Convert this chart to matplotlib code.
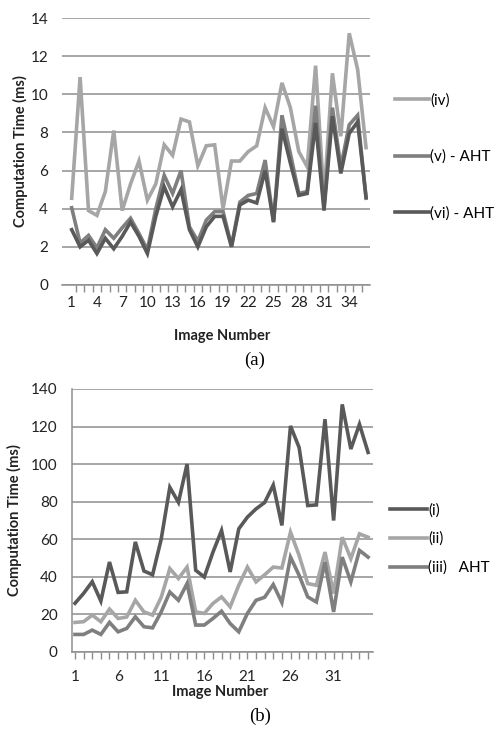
import numpy as np
import matplotlib
matplotlib.use("Agg")
import matplotlib.pyplot as plt

plt.rcParams['font.family'] = ['Lato', 'DejaVu Sans']

# ---------------- data: chart (a) ----------------
img_a = list(range(1, 37))
a_iv = [4.55, 10.9, 3.9, 3.65, 4.9, 8.1, 3.9, 5.3, 6.5, 4.45, 5.3, 7.35,
        6.8, 8.7, 8.55, 6.25, 7.3, 7.35, 4.0, 6.5, 6.5, 7.0, 7.3, 9.3,
        8.3, 10.6, 9.3, 7.0, 6.2, 11.5, 4.6, 11.1, 7.8, 13.2, 11.3, 7.2]
a_v = [4.05, 2.2, 2.6, 1.95, 2.9, 2.45, 3.0, 3.5, 2.7, 1.85, 4.0, 5.75,
       4.8, 6.0, 3.05, 2.3, 3.4, 3.85, 3.85, 2.05, 4.35, 4.7, 4.8, 6.55,
       3.3, 8.9, 6.9, 4.8, 4.9, 9.4, 4.1, 9.3, 6.2, 8.4, 8.9, 4.55]
a_vi = [2.9, 2.0, 2.35, 1.65, 2.45, 1.9, 2.55, 3.3, 2.55, 1.65, 3.6, 5.15,
        4.1, 5.0, 2.9, 2.0, 3.05, 3.6, 3.6, 2.0, 4.2, 4.45, 4.3, 6.0,
        3.3, 8.2, 6.4, 4.7, 4.8, 8.5, 3.9, 8.85, 5.85, 7.95, 8.55, 4.6]
ticks_a = list(range(1, 36, 3))
labels_a = ["(iv)", "(v) - AHT", "(vi) - AHT"]

# ---------------- data: chart (b) ----------------
img_b = list(range(1, 36))
b_i = [25.8, 31.1, 37.3, 27.0, 47.8, 31.6, 31.9, 58.5, 43.0, 41.0, 60.0, 87.6,
       79.6, 100.0, 43.4, 39.8, 53.0, 64.6, 42.5, 65.5, 71.7, 76.1, 79.5, 88.8,
       67.3, 120.3, 108.8, 77.9, 78.2, 123.9, 69.9, 131.8, 108.0, 121.2, 106.2]
b_ii = [15.6, 16.0, 19.5, 16.0, 22.7, 17.7, 18.5, 27.4, 21.2, 19.5, 29.0, 44.3,
        39.0, 45.1, 21.2, 20.4, 25.7, 29.2, 23.9, 35.4, 45.1, 37.2, 41.0, 45.1,
        44.6, 63.7, 51.3, 36.3, 35.4, 53.1, 31.0, 61.0, 49.6, 62.8, 61.0]
b_iii = [9.2, 9.2, 11.5, 9.2, 15.6, 10.6, 12.4, 18.6, 13.3, 12.7, 21.2, 31.8,
         27.4, 36.3, 14.2, 14.2, 17.7, 21.6, 15.0, 10.6, 20.4, 27.4, 29.0, 35.8,
         26.2, 50.4, 40.7, 29.2, 26.5, 47.8, 21.2, 50.4, 37.2, 54.0, 50.4]
ticks_b = list(range(1, 36, 5))
labels_b = ["(i)", "(ii)", "(iii)   AHT"]

LIGHT = "#a6a6a6"
MED = "#7f7f7f"
DARK = "#595959"
GRID = "#8e8e8e"
TXT = "#222222"

W, H = 495, 730
fig = plt.figure(figsize=(W / 100, H / 100), dpi=100)
fig.patch.set_facecolor("white")


def px_axes(left, top, right, bottom):
    return fig.add_axes([left / W, 1 - bottom / H, (right - left) / W, (bottom - top) / H])


lw = 2.6

# ---------------- (a) ----------------
ax = px_axes(62, 18, 370, 285)
la, = ax.plot(img_a, a_iv, color=LIGHT, lw=lw, solid_joinstyle="miter")
lb, = ax.plot(img_a, a_v, color=MED, lw=lw, solid_joinstyle="miter")
lc, = ax.plot(img_a, a_vi, color=DARK, lw=lw, solid_joinstyle="miter")
ax.set_ylim(0, 14)
ax.set_xlim(-0.153, 36.47)
ax.set_yticks(range(0, 15, 2))
ax.yaxis.grid(True, color=GRID, lw=1.1)
ax.set_axisbelow(True)
for s in ["left", "right", "top"]:
    ax.spines[s].set_visible(False)
ax.spines["bottom"].set_color(GRID)
ax.spines["bottom"].set_linewidth(1.1)
ax.set_xticks(ticks_a)
ax.set_xticks(np.arange(1.5, 36.5, 1.0), minor=True)
ax.tick_params(axis="x", which="major", length=0, pad=8, labelsize=11, colors=TXT)
ax.tick_params(axis="x", which="minor", length=5, width=1, color=GRID, direction="out")
ax.tick_params(axis="y", length=0, pad=10, labelsize=11, colors=TXT)
ax.set_xlabel("Image Number", fontsize=10.5, fontweight="bold", color=TXT)
ax.set_ylabel("Computation Time (ms)", fontsize=10.5, fontweight="bold", color=TXT)
ax.yaxis.label.set_va("center")
ax.xaxis.label.set_va("center")
ax.yaxis.set_label_coords((20 - 62) / 308, 0.5)
ax.xaxis.set_label_coords((222 - 62) / 308, -(336 - 285) / 267)
ax.legend([la, lb, lc], labels_a, loc="center left",
          bbox_to_anchor=(395 / W, 1 - 157 / H), bbox_transform=fig.transFigure,
          frameon=False, fontsize=11, handlelength=2.2, handletextpad=0.1,
          labelspacing=2.75, borderaxespad=0, borderpad=0)
fig.text(255 / W, 1 - 360 / H, "(a)", family="Liberation Serif", fontsize=13.5,
         ha="center", va="center")

# ---------------- (b) ----------------
bx = px_axes(71.7, 389, 373, 651.7)
l1, = bx.plot(img_b, b_i, color=DARK, lw=lw, solid_joinstyle="miter")
l2, = bx.plot(img_b, b_ii, color=LIGHT, lw=lw, solid_joinstyle="miter")
l3, = bx.plot(img_b, b_iii, color=MED, lw=lw, solid_joinstyle="miter")
bx.set_ylim(0, 140)
bx.set_xlim(0.617, 35.57)
bx.set_yticks(range(0, 141, 20))
bx.yaxis.grid(True, color=GRID, lw=1.1)
bx.set_axisbelow(True)
for s in ["right", "top"]:
    bx.spines[s].set_visible(False)
for s in ["left", "bottom"]:
    bx.spines[s].set_color(GRID)
    bx.spines[s].set_linewidth(1.1)
bx.set_xticks(ticks_b)
bx.set_xticks(np.arange(1, 36, 1), minor=True)
bx.tick_params(axis="x", which="major", length=5, width=1, color=GRID, pad=8,
               labelsize=11, labelcolor=TXT)
bx.tick_params(axis="x", which="minor", length=5, width=1, color=GRID, direction="out")
bx.tick_params(axis="y", length=0, pad=10, labelsize=11, colors=TXT)
bx.set_xlabel("Image Number", fontsize=10.5, fontweight="bold", color=TXT)
bx.set_ylabel("Computation Time (ms)", fontsize=10.5, fontweight="bold", color=TXT)
bx.yaxis.label.set_va("center")
bx.xaxis.label.set_va("center")
bx.yaxis.set_label_coords((14 - 71.7) / 301.3, 0.5)
bx.xaxis.set_label_coords((220 - 71.7) / 301.3, -(692 - 651.7) / 262.7)
bx.legend([l1, l2, l3], labels_b, loc="center left",
          bbox_to_anchor=(390 / W, 1 - 539 / H), bbox_transform=fig.transFigure,
          frameon=False, fontsize=11, handlelength=2.4, handletextpad=0.1,
          labelspacing=0.95, borderaxespad=0, borderpad=0)
fig.text(260 / W, 1 - 716 / H, "(b)", family="Liberation Serif", fontsize=13.5,
         ha="center", va="center")

fig.savefig("out.png", dpi=100, facecolor="white")
